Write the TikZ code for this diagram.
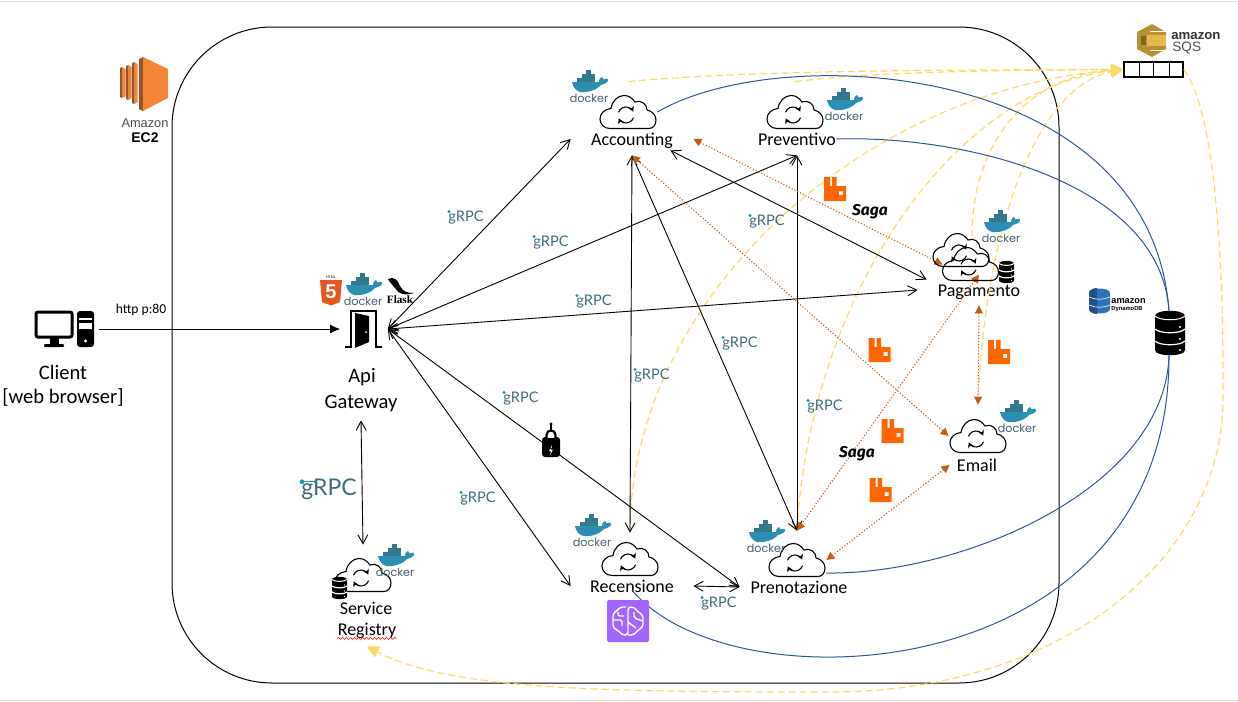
\documentclass[tikz,border=0pt]{standalone}
\usepackage{fontspec}
\setmainfont{Carlito}
\newfontfamily\rpcfont{Lato}
\newfontfamily\dockfont{Poppins}
\newfontfamily\awsfont{Liberation Sans}
\newfontfamily\flaskfont{Liberation Serif}
\newfontfamily\sagafont{Fira Sans}
\usetikzlibrary{arrows.meta,decorations.pathmorphing}
\definecolor{inkrpc}{HTML}{3F6B7C}
\definecolor{dotrpc}{HTML}{1F9C9E}
\definecolor{whale}{HTML}{2C8FB2}
\definecolor{whaledark}{HTML}{34788F}
\definecolor{inkdock}{HTML}{45606C}
\definecolor{mqorange}{HTML}{FF6600}
\definecolor{mqline}{HTML}{C55A11}
\definecolor{sqline}{HTML}{FFD966}
\definecolor{dbline}{HTML}{2F5597}
\definecolor{ecorange}{HTML}{F58536}
\definecolor{ecdark}{HTML}{9D5025}
\definecolor{sqgold}{HTML}{B8902F}
\definecolor{sqlight}{HTML}{E6B84C}
\definecolor{dyblue}{HTML}{2E73B8}
\definecolor{brainbg}{HTML}{A166FF}
\definecolor{htmlred}{HTML}{E8551F}
\tikzset{
  svc box/.style={inner sep=0pt, minimum width=29pt},
  svc lab/.style={inner sep=0pt, align=center, text height=7pt, text depth=1pt, font=\fontsize{9}{11}\selectfont},
  big lab/.style={inner sep=0pt, align=center, font=\fontsize{10.3}{12}\selectfont},
  rpc tag/.style={inner sep=0pt, yshift=-.8pt, text=inkrpc, font=\rpcfont\fontsize{7.3}{9}\selectfont},
  dock tag/.style={inner sep=0pt, text=inkdock, font=\dockfont\fontsize{5.6}{6}\selectfont},
  aws tag/.style={inner sep=0pt, font=\awsfont\fontsize{6.4}{7}\selectfont},
  saga tag/.style={inner sep=0pt, font=\sagafont\bfseries\itshape\fontsize{7.8}{8}\selectfont},
  rpc arr/.style={{Straight Barb[length=4.5pt,width=5pt]}-{Straight Barb[length=4.5pt,width=5pt]}, line width=.45pt, black},
  mq arr/.style={{Triangle[length=4pt,width=4pt]}-{Triangle[length=4pt,width=4pt]}, densely dotted, line width=.55pt, mqline},
  sq arr/.style={-{Triangle[length=6pt,width=6pt]}, dash pattern=on 3.5pt off 2pt, line width=.6pt, sqline},
  db line/.style={line width=.5pt, dbline},
  sync cloud/.pic={
    \draw[line width=.55pt] (-18,16.5) .. controls (-24,16.5) and (-28,12) .. (-28,7) .. controls (-28,1) and (-23,-3) .. (-17,-3.5)
      .. controls (-16,-11) and (-10,-16.5) .. (-4,-16.5) .. controls (1,-16.5) and (4,-14) .. (7,-10)
      .. controls (13,-12.5) and (19,-8) .. (19,-2) .. controls (24,-1) and (28,3) .. (28,8)
      .. controls (28,13) and (25,16.5) .. (21,16.5) -- cycle;
    \draw[line width=.55pt, -{Stealth[length=2.6pt,width=3pt]}] ([shift={(-2,3)}]200:8) arc (200:335:8);
    \draw[line width=.55pt, -{Stealth[length=2.6pt,width=3pt]}] ([shift={(-2,3)}]20:8) arc (20:155:8);
  },
  docker logo/.pic={
    \fill[whale] (-17,-5) -- (10,-5) .. controls (10,-9) and (13,-11) .. (14,-9) .. controls (14,-7) and (15,-7) .. (16,-8)
      .. controls (18,-9) and (20,-8) .. (19,-6) .. controls (17,-3) and (14,-3) .. (12,-2) .. controls (7,4) and (-4,6) .. (-9,5)
      .. controls (-14,3) and (-16,0) .. (-17,-5) -- cycle;
    \foreach \bx/\by in {-12/-9,-7.5/-9,-3/-9,1.5/-9,-7.5/-13,-3/-13,1.5/-13,-3/-17}
      \fill[whaledark] (\bx,\by) rectangle ++(4.5,4.2);
    \node[dock tag] (-t) at (0,11) {docker};
  },
  rabbit logo/.pic={
    \fill[mqorange, even odd rule] (-11,-12) -- (-5,-12) -- (-5,-3) -- (-3,-3) -- (-3,-12) -- (1.5,-12) -- (1.5,-3) -- (11,-3) -- (11,12) -- (-11,12) -- cycle
      (4,2) rectangle (8,6);
  },
  db stack/.pic={
    \fill[black] (-15,-17) .. controls (-15,-24) and (15,-24) .. (15,-17) -- (15,17) .. controls (15,24) and (-15,24) .. (-15,17) -- cycle;
    \draw[white, line width=.5pt] (-15,-17) .. controls (-10,-12) and (10,-12) .. (15,-17);
    \draw[white, line width=.6pt] (-15,-4) .. controls (-10,1) and (10,1) .. (15,-4);
    \draw[white, line width=.6pt] (-15,8) .. controls (-10,13) and (10,13) .. (15,8);
    \foreach \dy in {-6,6,17} \fill[white] (10,\dy) circle (1.2);
  },
}
\begin{document}
\begin{tikzpicture}[x=0.5pt, y=-0.5pt]
  \useasboundingbox (0,0) rectangle (1238,702);
  \draw[black!15] (0,1) -- (1238,1);
  \draw[black!15] (0,700) -- (1238,700);
  % the EC2 frame
  \node[draw, line width=.5pt, inner sep=0pt, minimum width=443.5pt, minimum height=328pt, rounded corners=50pt] (ecframe) at (615.5,355) {};
  % service labels, and the boxes round the clouds the links end on
  \node[svc lab, minimum width=61pt, minimum height=16pt] (acc) at (632,139) {Accounting};
  \node[svc lab, minimum width=35pt, minimum height=16pt] (pre) at (797,139) {Preventivo};
  \node[svc lab, minimum width=61pt, minimum height=15pt] (pag) at (979,290) {Pagamento};
  \node[svc lab, minimum width=27pt, minimum height=12pt] (eml) at (977,465) {Email};
  \node[svc lab, minimum width=61pt, minimum height=12pt] (rec) at (632,586) {Recensione};
  \node[svc lab, minimum width=59pt, minimum height=12pt] (pnt) at (799,587) {Prenotazione};
  \node[svc lab] (srv) at (366,608) {Service};
  \node[svc lab, minimum width=29pt, minimum height=16.5pt] (reg) at (367,629.5) {Registry};
  \node[big lab] (api) at (362,377) {Api};
  \node[big lab, minimum height=17pt] (gwt) at (361,403) {Gateway};
  \foreach \n/\px/\py/\h in {accc/628/112/30,prec/795/112/30,emlc/978/436/31,recc/630/559/26,pntc/797/560/29,srvc/363/575/30} {
    \node[svc box, minimum height=\h pt] (\n) at (\px,\py) {};
    \pic at (\px,\py) {sync cloud};
  }
  \node[svc box, minimum height=23pt] (pagc) at (972,260) {};
  \node[inner sep=0pt, minimum width=23.5pt, minimum height=20pt] (gw) at (364,329) {};
  \node[inner sep=0pt, minimum width=34pt, minimum height=20pt] (cli) at (65,329) {};
  \node[draw, line width=.8pt, inner sep=0pt, minimum width=29.5pt, minimum height=7.5pt] (sqs) at (1153.5,69.5) {};
  \node[inner sep=0pt, minimum width=15pt, minimum height=22pt] (db) at (1169,333) {};
  % yellow: events to the queue
  \draw[sq arr] (accc.north) .. controls (750,70) and (950,70) .. (sqs.west);
  \draw[sq arr] (prec.north) .. controls (870,72) and (1000,70) .. (sqs.west);
  \draw[sq arr] (recc.north) .. controls (630,300) and (860,90) .. (sqs.west);
  \draw[sq arr] (pntc.north) .. controls (810,300) and (950,90) .. (sqs.west);
  \draw[sq arr] (pagc.north) .. controls (972,140) and (1030,75) .. (sqs.west);
  \draw[sq arr] (emlc.north) .. controls (985,220) and (1040,85) .. (sqs.west);
  \draw[sq arr] (sqs.east) .. controls (1215,110) and (1224,260) .. (1223,400) .. controls (1222,560) and (1060,692) .. (830,692)
    .. controls (600,692) and (450,690) .. (reg.south);
  % blue: services to the database
  \draw[db line] (accc.east) .. controls (780,40) and (1150,60) .. (db.north);
  \draw[db line] (pre.east) .. controls (960,135) and (1160,180) .. (db.north);
  \draw[db line] ([shift={(0,13)}]pntc.east) .. controls (960,575) and (1165,490) .. (db.south);
  \draw[db line] ([shift={(0,4)}]rec.center) .. controls (730,710) and (1170,690) .. (db.south);
  % lever icon on the link to Prenotazione
  \fill (551,424) circle (1.6);
  \draw[line width=.7pt] (551,424) -- (551,432);
  \fill[rounded corners=1.5pt] (542,437) rectangle (560,457);
  \draw[white, line width=1.6pt] (546,436) -- (556,436);
  \draw[line width=1.1pt] (546.5,447) -- (546.5,435) .. controls (546.5,429) and (555.5,429) .. (555.5,435) -- (555.5,447);
  \fill[white] (552,445) -- (549,451) -- (551,451) -- (550,455) -- (553.5,449) -- (551.5,449) -- cycle;
  % black: grpc calls
  \draw[-{Latex[length=5pt,width=4.5pt]}, line width=.45pt] (cli.east) -- (gw.west);
  \foreach \a/\b in {gw.east/acc.west,gw.east/pre.south,gw.east/pag.west,gw.east/pnt.west,gw.east/rec.west,
                     gwt.south/srvc.north,acc.south/recc.north,acc.south/pntc.north,pre.south/pntc.north,rec.east/pnt.west}
    \draw[rpc arr] (\a) -- (\b);
  \draw[rpc arr] ([shift={(-23,-5)}]acc.south east) -- ([shift={(9,5)}]pag.north west);
  % orange: saga over the broker
  \draw[mq arr] (acc.east) -- ([shift={(25,-10)}]pag.north west);
  \draw[mq arr] (acc.south) -- (emlc.west);
  \draw[mq arr] (pag.north) -- (pntc.north);
  \draw[mq arr] (pag.south) -- (emlc.north);
  \draw[mq arr] (eml.west) -- (pntc.east);
  % logos
  \foreach \i/\px/\py in {1/589/87,2/844/105,3/1001/227,4/363/290,5/395/561,6/592/531,7/766/537,8/1017/417}
    \pic (dk\i) at (\px,\py) {docker logo};
  \foreach \px/\py in {835/189,879.5/350,892.5/431,880.5/490,999/352}
    \pic at (\px,\py) {rabbit logo};
  \foreach \i/\px/\py in {1/466/216,2/551/241,3/594/300,4/767/220,5/521/397,6/652/374,7/740/342,8/825/405,9/478/497,10/719/602} {
    \node[rpc tag] (rpc\i) at (\px,\py) {gRPC};
    \fill[dotrpc] ([shift={(1,1)}]rpc\i.north west) circle (1.7);
  }
  \node[rpc tag, font=\rpcfont\fontsize{11.5}{13}\selectfont] (rpcbig) at (329,488) {gRPC};
  \fill[dotrpc] ([shift={(1,3)}]rpcbig.north west) circle (2.4) ++(13,0) circle (1.6);
  \draw[dotrpc, line width=.4pt] ([shift={(1,3)}]rpcbig.north west) -- ++(13,0);
  \node[saga tag] (sagaa) at (870,212) {Saga};
  \node[saga tag] (sagab) at (857,454) {Saga};
  % Pagamento has its clouds piled up
  \pic at (961,250) {sync cloud};
  \pic at (970.5,264) {sync cloud};
  % small and big database stacks
  \pic[scale=.5] at (1006.5,272) {db stack};
  \pic[scale=.5] at (339.5,588) {db stack};
  \pic at (1170,333) {db stack};
  % client
  \draw[line width=1.5pt, rounded corners=1pt] (36,312) rectangle (72,337);
  \fill (50,338) rectangle (59,344);
  \fill[rounded corners=.5pt] (44,344) rectangle (64,347);
  \fill[rounded corners=1.5pt] (77,311) rectangle (94,347);
  \fill[white] (79,318) rectangle (92,320);
  \fill[white] (79,323) rectangle (92,329);
  \fill[white] (85.5,341) circle (1.6);
  \node[big lab] (clia) at (63,372) {Client};
  \node[big lab] (clib) at (63,397) {[web browser]};
  \node[inner sep=0pt, font=\fontsize{6.8}{8}\selectfont] (http) at (141,310) {http p:80};
  % gateway door and its tags
  \draw[line width=1pt] (345,347) -- (351,347) -- (351,311) -- (376,311) -- (376,347) -- (382,347);
  \fill (355,313) -- (369,316) -- (369,342) -- (355,348) -- cycle;
  \fill[white] (366,332) circle (1);
  \fill[htmlred] (320,280) -- (342,280) -- (340,302) -- (331,305.5) -- (322,302) -- cycle;
  \node[inner sep=0pt, font=\awsfont\fontsize{1.8}{2}\selectfont] (htmltag) at (331,277) {HTML};
  \node[inner sep=0pt, text=white, font=\awsfont\bfseries\fontsize{10}{10}\selectfont] (htmlfive) at (331,292) {5};
  \fill (388,279) .. controls (394,276) and (398,280) .. (400,286) .. controls (403,292) and (408,293) .. (414,293)
    .. controls (405,296) and (398,294) .. (395,288) .. controls (392,284) and (390,283) .. (388,279) -- cycle;
  \node[inner sep=0pt, font=\flaskfont\bfseries\fontsize{5.6}{6}\selectfont] (flask) at (400,300) {Flask};
  \draw[red, decorate, decoration={snake, amplitude=.5pt, segment length=2pt}, line width=.3pt] ([shift={(0,-8)}]reg.south west) -- ([shift={(0,-8)}]reg.south east);
  % EC2
  \foreach \sx/\sa/\sb in {120/67/98,126/65/100,132/62/104} {
    \fill[ecdark] (\sx,\sa+1) -- (\sx+2.5,\sa) -- (\sx+2.5,\sb) -- (\sx,\sb-1) -- cycle;
    \fill[ecorange] (\sx+2.5,\sa) -- (\sx+5.5,\sa+2) -- (\sx+5.5,\sb-2) -- (\sx+2.5,\sb) -- cycle;
  }
  \fill[ecdark] (139,59) -- (143,57) -- (143,111) -- (139,109) -- cycle;
  \fill[ecorange] (143,57) -- (168,69) -- (168,98) -- (143,111) -- cycle;
  \node[aws tag, text=black!70] (eca) at (145,123) {Amazon};
  \node[aws tag, font=\awsfont\bfseries\fontsize{7}{8}\selectfont] (ecb) at (145,138) {EC2};
  % SQS
  \fill[sqgold] (1137,32) -- (1152,24) -- (1166,32) -- (1166,49) -- (1152,57) -- (1137,49) -- cycle;
  \fill[sqlight] (1147,35) -- (1166,35) -- (1166,46) -- (1147,46) -- cycle;
  \draw[white, line width=.5pt] (1150,31) -- (1166,31) (1150,50) -- (1166,50);
  \fill[sqgold!70!black] (1141,36) rectangle (1146,45);
  \foreach \dx in {1139,1153,1169} \draw[line width=.4pt] (\dx,62) -- (\dx,77);
  \node[aws tag, anchor=west, text=black!80, font=\awsfont\bfseries\fontsize{6.6}{7}\selectfont] (sqa) at (1171,36) {amazon};
  \node[aws tag, anchor=west, text=black!70, font=\awsfont\fontsize{6.8}{7}\selectfont] (sqb) at (1172,48) {SQS};
  % DynamoDB
  \fill[dyblue] (1089,293) .. controls (1089,287) and (1110,287) .. (1110,293) -- (1110,309) .. controls (1110,315) and (1089,315) .. (1089,309) -- cycle;
  \fill[dyblue!70!black] (1089,293) .. controls (1089,289) and (1095,288) .. (1097,288) -- (1097,314) .. controls (1095,314) and (1089,313) .. (1089,309) -- cycle;
  \draw[white, line width=.3pt] (1089,297) .. controls (1095,300) and (1104,300) .. (1110,297) (1089,305) .. controls (1095,308) and (1104,308) .. (1110,305);
  \node[aws tag, anchor=west, font=\awsfont\bfseries\fontsize{4.6}{5}\selectfont] (dya) at (1111,301) {amazon};
  \node[aws tag, anchor=west, font=\awsfont\bfseries\fontsize{2.9}{3}\selectfont] (dyb) at (1111,309) {DynamoDB};
  % brain
  \fill[brainbg, rounded corners=1pt] (607,600) rectangle (649,642);
  \draw[white, line width=.7pt, rounded corners=1.5pt] (626,607) -- (620,607) -- (617,611) -- (613,613) -- (613,628) -- (619,631) -- (622,635) -- (628,635) -- (628,607) -- (634,607) -- (638,612) -- (643,615) -- (643,627) -- (638,630) -- (634,635) -- (628,635);
  \draw[white, line width=.7pt, rounded corners=1pt] (613,620) -- (622,620) -- (622,626) (618,612) -- (618,616) -- (624,616) (628,622) -- (636,628) (634,612) -- (634,618) -- (643,621);
\end{tikzpicture}
\end{document}
